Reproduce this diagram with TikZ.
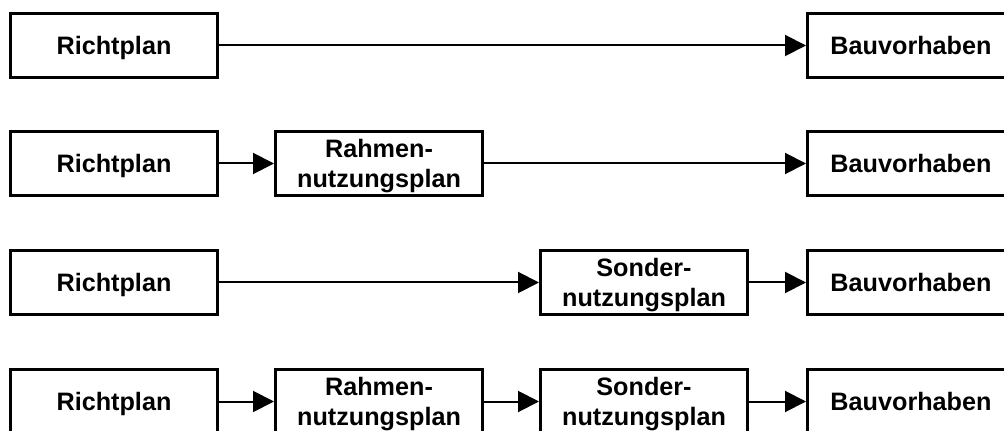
\documentclass[tikz,border=0pt]{standalone}
\usepackage{fontspec}
\setmainfont{Liberation Sans}
\usepackage{tikz}
\usetikzlibrary{arrows.meta}

\begin{document}
\begin{tikzpicture}[x=0.75pt,y=0.75pt,yscale=-1,xscale=1,
  planbox/.style={draw,line width=2.25pt,minimum width=155.25pt,minimum height=48pt,inner sep=0pt,align=center,text height=13.4pt,text depth=0pt,font=\fontsize{18.9pt}{23pt}\selectfont\bfseries},
  twoline/.style={text height=36.4pt},
  flow/.style={line width=1.5pt,-{Triangle[length=15.75pt,width=15.75pt]}}]
%set diagram size: 1004 x 431
\useasboundingbox (0,0) rectangle (1004,431);

%Row 1
\node[planbox] (rp1) at (114,45.5) {Richtplan};
\node[planbox] (bv1) at (911,45.5) {Bauvorhaben};
\draw[flow] (rp1) -- (bv1);

%Row 2
\node[planbox] (rp2) at (114,163.5) {Richtplan};
\node[planbox,twoline] (rnp2) at (379,163.5) {Rahmen-\\nutzungsplan};
\node[planbox] (bv2) at (911,163.5) {Bauvorhaben};
\draw[flow] (rp2) -- (rnp2);
\draw[flow] (rnp2) -- (bv2);

%Row 3
\node[planbox] (rp3) at (114,282.5) {Richtplan};
\node[planbox,twoline] (snp3) at (644,282.5) {Sonder-\\nutzungsplan};
\node[planbox] (bv3) at (911,282.5) {Bauvorhaben};
\draw[flow] (rp3) -- (snp3);
\draw[flow] (snp3) -- (bv3);

%Row 4
\node[planbox] (rp4) at (114,401.5) {Richtplan};
\node[planbox,twoline] (rnp4) at (379,401.5) {Rahmen-\\nutzungsplan};
\node[planbox,twoline] (snp4) at (644,401.5) {Sonder-\\nutzungsplan};
\node[planbox] (bv4) at (911,401.5) {Bauvorhaben};
\draw[flow] (rp4) -- (rnp4);
\draw[flow] (rnp4) -- (snp4);
\draw[flow] (snp4) -- (bv4);

\end{tikzpicture}
\end{document}
